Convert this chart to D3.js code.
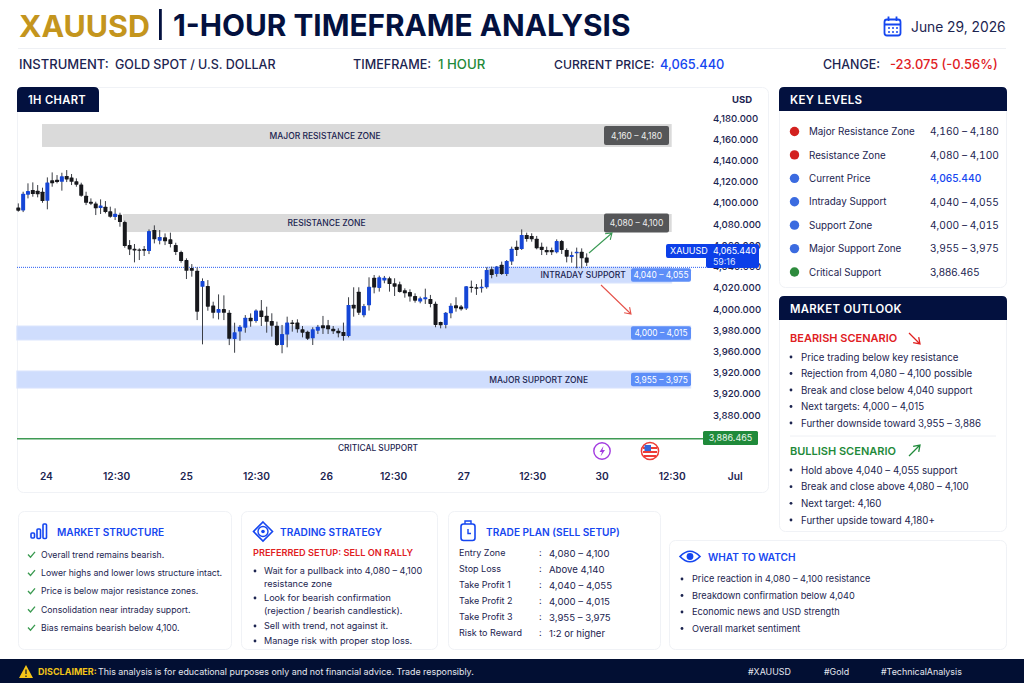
<!DOCTYPE html>
<html>
<head>
<meta charset="utf-8">
<script src="https://cdn.jsdelivr.net/npm/d3@7"></script>
<style>
  html, body { margin: 0; padding: 0; background: #fff; overflow: hidden; }
  text { font-family: Inter, "Noto Sans", sans-serif; }
</style>
</head>
<body>
<script>
// candles
const open = [4095.7,4092.9,4107.7,4112.1,4111.5,4110.5,4102,4121.2,4121.8,4119.9,4125.3,4124,4120.3,4117.4,4106.7,4101.1,4099.5,4095.1,4096.4,4092,4086.6,4088.8,4081.9,4060.2,4056.8,4056.1,4056.5,4054.6,4074.4,4064.3,4067.5,4065.6,4060.2,4053.6,4046.1,4038.5,4036,4020.9,4021.6,4003.3,3996.4,3999.9,3996.4,3971.6,3978.8,3982.3,3991.7,3988.6,3998.6,3993.6,
  3988.6,3984.2,3966,3975.8,3987.1,3987.1,3980.8,3978.6,3972.3,3979.5,3984.6,3984.6,3981.4,3979.5,3978.3,3974.5,4004,4016.3,3994,4003.4,4029.5,4019.8,4026.7,4028.9,4024.2,4023.2,4017.6,4016,4012.2,4006.9,4009.1,4009.4,4005,3987.7,3984.9,3995.9,4003.4,4002.2,4000.3,4021,4020.4,4019.4,4020.4,4037.4,4033,4041.7,4032.9,4044.6,4058.7,4056.5,4069.7,4068.8,4066.2,4058.7,4055.6,4055.6,4053.4,4064,4055.6,4049,4052.4,4054,4048.6]
const high = [4099.5,4110.5,4118.4,4119.3,4116.8,4114.3,4124,4128.7,4126.2,4128.4,4130.9,4127.2,4123.1,4119,4110.5,4104.2,4101.1,4103.3,4101.7,4096.4,4094.8,4090.7,4083.2,4064.9,4061.2,4057.1,4059.3,4075,4078.8,4074.4,4071.2,4071.9,4062.4,4054.9,4047.7,4042.3,4039.2,4028.8,4027.2,4006.8,4013.7,4012.8,3998.9,3987,3984.8,3994.2,3995.8,3999.6,4008.4,4002.1,
  3995.9,3988,3984.9,3992.7,3989.6,3990.2,3983.9,3979.5,3982.7,3984.9,3993.4,3989.6,3983.9,3981.7,3987.1,4011,4020.4,4020.4,4004.7,4029.8,4032,4031.4,4031.1,4030.4,4028.9,4025.7,4019.4,4018.5,4014.7,4011.6,4019.1,4013.2,4006.9,3988,3997.1,4005.3,4011,4003.7,4021.6,4026.7,4023.5,4027.9,4039.2,4039.9,4040.5,4044.6,4046.1,4058.7,4064.4,4075,4071.9,4071.3,4068.8,4062.5,4058.7,4057.8,4065.6,4065,4057.1,4054,4057.8,4057.1,4052.4]
const low = [4091.7,4091.3,4104.2,4105.8,4105.2,4100.1,4093.9,4115.2,4118.4,4111.5,4119.6,4116.8,4115.2,4105.8,4097.9,4097.9,4088.5,4089.5,4090.1,4086,4083.8,4077.5,4057.7,4050.8,4043.9,4046.1,4049.9,4051.7,4061.8,4060.9,4060.2,4058,4050.8,4043.6,4028.2,4030.4,3989.5,3966.6,3998.3,3991.1,3990.1,3989.5,3965.9,3958.7,3970,3977.6,3983.2,3987,3983.9,3977.6,
  3973.9,3965.1,3958.2,3963.8,3978.6,3977.6,3973.2,3970.7,3966,3976.4,3976.4,3976.4,3976.4,3973.2,3970.1,3973.2,3992.7,3994.3,3992.1,3998.4,4014.7,4016.3,4024.2,4016.3,4012.2,4015.4,4010.6,4006.9,4005.9,4005.3,4004.7,4001.5,3982.7,3981.7,3981.7,3991.2,3997.4,3998.4,3999,4015.4,4013.2,4015.4,4019.1,4028.9,4030.4,4032,4031,4041.4,4049.9,4055.6,4063.4,4063.4,4056.2,4050.8,4050.8,4050.8,4052.4,4051.8,4043.9,4043.6,4038.3,4038.3,4040.5]
const close = [4092.6,4108.6,4111.1,4108.3,4108,4101.7,4119.3,4118.4,4119.6,4125,4122.1,4119.9,4117.1,4106.7,4100.1,4099.2,4094.8,4097.6,4091.3,4086.9,4089.8,4081.9,4059.3,4056.1,4055.2,4054.9,4054.9,4073.4,4065.6,4067.8,4063.7,4061.2,4053.6,4045.1,4036,4036,3997.4,4026.3,4002.1,3996.4,3999.9,3996.4,3971.9,3977.9,3983.2,3991.7,3988.3,3998.6,3992.3,3987.9,
  3984.2,3966,3976.4,3987.1,3985.8,3980.8,3977.6,3972,3980.8,3983.3,3981.7,3980.8,3978.9,3977,3974.5,4003.7,4000.3,3996.5,4002.8,4021,4020.1,4029.8,4029.5,4023.5,4021,4016,4014.7,4011.6,4007.8,4010,4011,4004.7,3984.9,3984.6,3996.5,4003.1,4000.6,3999.6,4021.3,4019.8,4019.1,4021,4036.7,4032,4039.9,4032.9,4045.2,4056.8,4055.6,4069.7,4065.9,4065.6,4057.1,4055.6,4053.4,4053.4,4064,4055.6,4049.3,4050.8,4054,4047.7,4043.6]

// y axis, printed labels kept as they appear in the picture
const tickValues = [4180,4160,4140,4120,4100,4080,4060,4040,4020,4000,3980,3960,3940,3920,3900]
const tickLabels = ['4,180.000','4,160.000','4,140.000','4,120.000','4,100.000','4,080.000','4,060.000','4,040.000','4,020.000','4,000.000','3,980.000','3,960.000','3,920.000','3,920.000','3,880.000']

// x axis, in bar numbers
const timeBars = [5.7,20.2,33.9,47,60.6,73.7,87.4,101.1,115,129,141.6]
const timeLabels = ['24','12:30','25','12:30','26','12:30','27','12:30','30','12:30','Jul']

// zones as plotted against the axis
const zoneNames = ['MAJOR RESISTANCE ZONE','RESISTANCE ZONE','INTRADAY SUPPORT','','MAJOR SUPPORT ZONE']
const zoneRanges = ['4,160 – 4,180','4,080 – 4,100','4,040 – 4,055','4,000 – 4,015','3,955 – 3,975']
const zoneHigh = [4174.3,4089.5,4039.5,3983.9,3941.5]
const zoneLow = [4152.7,4072.5,4024.4,3970.7,3925.4]
const zoneFromBar = [4.9,21.6,92,-0.3,-0.3]
const zoneToBar = [129,129,129,132.8,132.8]
const zoneLabelBar = [60.4,60.7,111.3,0,102.4]
const currentLine = 4039.2
const criticalLine = 3877.6

const keyLabels = ['Major Resistance Zone','Resistance Zone','Current Price','Intraday Support','Support Zone','Major Support Zone','Critical Support']
const keyValues = ['4,160 – 4,180','4,080 – 4,100','4,065.440','4,040 – 4,055','4,000 – 4,015','3,955 – 3,975','3,886.465']
const keyKinds = ['red','red','blue','blue','blue','blue','green']

const bearishList = ['Price trading below key resistance','Rejection from 4,080 – 4,100 possible','Break and close below 4,040 support','Next targets: 4,000 – 4,015','Further downside toward 3,955 – 3,886']
const bullishList = ['Hold above 4,040 – 4,055 support','Break and close above 4,080 – 4,100','Next target: 4,160','Further upside toward 4,180+']
const structureList = ['Overall trend remains bearish.','Lower highs and lower lows structure intact.','Price is below major resistance zones.','Consolidation near intraday support.','Bias remains bearish below 4,100.']
const strategyList = [['Wait for a pullback into 4,080 – 4,100','resistance zone'],['Look for bearish confirmation','(rejection / bearish candlestick).'],['Sell with trend, not against it.'],['Manage risk with proper stop loss.']]
const planLabels = ['Entry Zone','Stop Loss','Take Profit 1','Take Profit 2','Take Profit 3','Risk to Reward']
const planValues = ['4,080 – 4,100','Above 4,140','4,040 – 4,055','4,000 – 4,015','3,955 – 3,975','1:2 or higher']
const watchList = ['Price reaction in 4,080 – 4,100 resistance','Breakdown confirmation below 4,040','Economic news and USD strength','Overall market sentiment']
const hashTags = ['#XAUUSD','#Gold','#TechnicalAnalysis']

const navy = '#03113f', ink = '#1c2450', blue = '#1546f0', red = '#e0201f', green = '#1f8a3a'
const dotColor = {red: '#d3211f', blue: '#3b6be0', green: '#2e8b3d'}

const svg = d3.select('body').append('svg')
  .attr('width', 1024).attr('height', 683)
  .style('display', 'block')

const label = (x, y, str, size, color, weight, anchor) => svg.append('text')
  .attr('x', x).attr('y', y).attr('dy', '0.38em')
  .attr('text-anchor', anchor || 'start')
  .attr('font-size', size).attr('font-weight', weight || 400)
  .attr('fill', color || ink).text(str)

const panel = (x, y, w, h) => svg.append('rect')
  .attr('x', x + 0.5).attr('y', y + 0.5).attr('width', w).attr('height', h).attr('rx', 6)
  .attr('fill', '#fff').attr('stroke', '#f0f2f6')

const header = (x, y, w, h, str, size) => {
  svg.append('path')
    .attr('d', `M${x},${y + h}V${y + 5}Q${x},${y} ${x + 5},${y}H${x + w - 5}Q${x + w},${y} ${x + w},${y + 5}V${y + h}Z`)
    .attr('fill', navy)
  label(x + 11, y + h / 2 + 0.5, str, size, '#fff', 600).attr('letter-spacing', 0.35)
}

const arrow = (x1, y1, x2, y2, color, width) => {
  const a = Math.atan2(y2 - y1, x2 - x1), s = 7
  svg.append('path')
    .attr('d', `M${x1},${y1}L${x2},${y2}M${x2 - s * Math.cos(a - 0.6)},${y2 - s * Math.sin(a - 0.6)}L${x2},${y2}L${x2 - s * Math.cos(a + 0.6)},${y2 - s * Math.sin(a + 0.6)}`)
    .attr('fill', 'none').attr('stroke', color).attr('stroke-width', width)
}

// title block
label(19, 25, 'XAUUSD', 30.4, '#c4951d', 700)
svg.append('rect').attr('x', 159).attr('y', 9).attr('width', 2.8).attr('height', 31).attr('fill', navy)
label(173, 25, '1-HOUR TIMEFRAME ANALYSIS', 29.8, navy, 700)
svg.append('rect').attr('x', 884.5).attr('y', 19.5).attr('width', 16).attr('height', 16).attr('rx', 2.5)
  .attr('fill', 'none').attr('stroke', blue).attr('stroke-width', 1.8)
svg.append('path').attr('d', 'M884.5,24.5H900.5M888.5,16.5V21M896.5,16.5V21').attr('stroke', blue).attr('stroke-width', 1.8)
svg.append('path').attr('d', 'M888,28H890M892,28H894M896,28H898M888,32H890M892,32H894M896,32H898').attr('stroke', blue).attr('stroke-width', 1.6)
label(911, 27, 'June 29, 2026', 13.8, ink, 400)
svg.append('line').attr('x1', 18).attr('x2', 1006).attr('y1', 48.5).attr('y2', 48.5).attr('stroke', '#eef0f4')

label(19, 64, 'INSTRUMENT:', 13, ink, 500)
label(115, 64, 'GOLD SPOT / U.S. DOLLAR', 12.5, ink, 500)
label(353, 64, 'TIMEFRAME:', 12.6, ink, 500)
label(438, 64, '1 HOUR', 13.2, green, 500)
label(554, 64, 'CURRENT PRICE:', 12.2, ink, 500)
label(660, 64, '4,065.440', 12.8, blue, 500)
label(823, 64, 'CHANGE:', 12.4, ink, 500)
label(890, 64, '-23.075 (-0.56%)', 12.9, red, 500)

// chart panel
panel(17, 87, 751, 405)
// bars are not quite evenly spaced in the picture, so the x scale has a few knots
const x = d3.scaleLinear().domain([0, 27, 49, 92, 112]).range([18.3, 149, 266.7, 486.7, 586.7])
const y = d3.scaleLinear().domain([4180, 3900]).range([118, 415])

header(17, 87, 82, 25, '1H CHART', 11.2)
label(742, 99, 'USD', 9.5, ink, 700, 'middle')

const zones = d3.range(zoneNames.length)
svg.append('g').selectAll('rect').data(zones).join('rect')
  .attr('x', i => x(zoneFromBar[i]))
  .attr('width', i => x(zoneToBar[i]) - x(zoneFromBar[i]))
  .attr('y', i => y(zoneHigh[i]))
  .attr('height', i => y(zoneLow[i]) - y(zoneHigh[i]))
  .attr('fill', i => i < 2 ? '#dadada' : '#cfddfd')
  .attr('stroke', i => i < 2 ? 'none' : '#dbe5fd')

// current price dotted line
svg.append('line')
  .attr('x1', 17).attr('x2', 706).attr('y1', y(currentLine)).attr('y2', y(currentLine))
  .attr('stroke', '#2a5ef2').attr('stroke-width', 1).attr('stroke-dasharray', '1 1')

// critical line
svg.append('line')
  .attr('x1', 17).attr('x2', 704).attr('y1', y(criticalLine)).attr('y2', y(criticalLine))
  .attr('stroke', '#3f9a54').attr('stroke-width', 1.3)

// candles
const bars = d3.range(open.length)
const candles = svg.append('g')
candles.selectAll('line').data(bars).join('line')
  .attr('x1', i => x(i)).attr('x2', i => x(i))
  .attr('y1', i => y(high[i])).attr('y2', i => y(low[i]))
  .attr('stroke', '#3a3d44').attr('stroke-width', 1)
candles.selectAll('rect').data(bars).join('rect')
  .attr('x', i => x(i) - 2).attr('width', 4)
  .attr('y', i => y(Math.max(open[i], close[i])))
  .attr('height', i => Math.max(1.2, Math.abs(y(open[i]) - y(close[i]))))
  .attr('rx', 0.6)
  .attr('fill', i => close[i] >= open[i] ? '#1546d6' : '#17181c')

// zone labels and tags
zones.forEach(i => {
  const mid = (y(zoneHigh[i]) + y(zoneLow[i])) / 2
  if (zoneNames[i]) label(x(zoneLabelBar[i]), mid, zoneNames[i], 8.5, ink, 500, 'middle')
  const dark = i < 2
  const tx = dark ? 604 : 631, tw = dark ? 65 : 60, th = dark ? 19 : 13.5
  svg.append('rect').attr('x', tx).attr('y', mid - th / 2).attr('width', tw).attr('height', th).attr('rx', 2)
    .attr('fill', dark ? '#555658' : '#5d8ef8')
  label(tx + tw / 2, mid, zoneRanges[i], dark ? 8.5 : 8.4, dark ? '#eee' : '#fff', 400, 'middle')
})

label(x(70.75), 448, 'CRITICAL SUPPORT', 8.4, ink, 500, 'middle')
svg.append('rect').attr('x', 703).attr('y', 431).attr('width', 55).attr('height', 14).attr('rx', 1.5).attr('fill', '#1f8a3a')
label(730.5, 438, '3,886.465', 9, '#e8f6ec', 400, 'middle')

arrow(589, 253, 612, 233, '#3b9a55', 1.1)
arrow(601, 285, 631, 314, '#e5534b', 1.1)

// axes, through d3
const yAxis = d3.axisRight(y).tickValues(tickValues).tickSize(0).tickPadding(0)
  .tickFormat((d, i) => tickLabels[i])
const yG = svg.append('g').attr('transform', 'translate(713,0)').call(yAxis)
yG.select('.domain').remove()
yG.selectAll('text').attr('font-size', 9.6).attr('font-weight', 500).attr('fill', ink)
  .style('font-family', 'Inter, sans-serif')

const xAxis = d3.axisBottom(x).tickValues(timeBars).tickSize(0).tickPadding(0)
  .tickFormat((d, i) => timeLabels[i])
const xG = svg.append('g').attr('transform', 'translate(0,473)').call(xAxis)
xG.select('.domain').remove()
xG.selectAll('text').attr('font-size', 10.2).attr('font-weight', 600).attr('fill', ink)
  .style('font-family', 'Inter, sans-serif')

// current price tag sits above the axis labels
svg.append('path').attr('d', 'M668,244H757Q759,244 759,246V266Q759,268 757,268H708Q706,268 706,266V258H668Q666,258 666,256V246Q666,244 668,244Z').attr('fill', '#0c3fe8')
label(670, 251, 'XAUUSD', 9, '#fff', 400)
label(713, 251, '4,065.440', 8.8, '#fff', 400)
label(713, 262, '59:16', 8.8, '#dfe7ff', 400)

// event icons
svg.append('circle').attr('cx', 602).attr('cy', 451).attr('r', 8.2).attr('fill', '#fff').attr('stroke', '#a33be0').attr('stroke-width', 1.4)
svg.append('path').attr('d', 'M603.5,446L599.5,452H602L600.5,456.5L605,450H602.5Z').attr('fill', '#a33be0')
svg.append('circle').attr('cx', 650).attr('cy', 451).attr('r', 8.6).attr('fill', '#fff').attr('stroke', '#ee3b35').attr('stroke-width', 1.5)
svg.append('path').attr('d', 'M643,448H657M643,452H657M644,456H656').attr('stroke', '#ee3b35').attr('stroke-width', 2)
svg.append('rect').attr('x', 644.5).attr('y', 445).attr('width', 6.5).attr('height', 6).attr('fill', '#3566d9')

// key levels
panel(779, 87, 227, 200)
header(779, 87, 228, 24, 'KEY LEVELS', 11.5)
const keyY = d3.scalePoint().domain(d3.range(keyLabels.length)).range([131.5, 272])
keyLabels.forEach((d, i) => {
  svg.append('circle').attr('cx', 794.5).attr('cy', keyY(i)).attr('r', 4.7).attr('fill', dotColor[keyKinds[i]])
  label(809, keyY(i), d, 9.8, ink, 400)
  label(930, keyY(i), keyValues[i], 10.2, i == 2 ? blue : ink, i == 2 ? 500 : 400)
    .style('font-variant-numeric', i == 2 || i == 6 ? 'normal' : 'tabular-nums')
})

// market outlook
const bullet = (xb, xt, yy, str, size) => {
  svg.append('circle').attr('cx', xb).attr('cy', yy).attr('r', 1.4).attr('fill', ink)
  label(xt, yy, str, size, ink, 400)
}
panel(779, 296, 227, 235)
header(779, 296, 228, 24, 'MARKET OUTLOOK', 11.3)
label(790, 338, 'BEARISH SCENARIO', 11, red, 600)
arrow(909, 333, 920, 344, red, 1.3)
const bearY = d3.scalePoint().domain(d3.range(bearishList.length)).range([357, 423])
bearishList.forEach((d, i) => bullet(791, 801, bearY(i), d, 9.7))
svg.append('line').attr('x1', 790).attr('x2', 996).attr('y1', 436).attr('y2', 436).attr('stroke', '#eef0f4')
label(790, 451, 'BULLISH SCENARIO', 11, green, 600)
arrow(909, 456, 920, 445, green, 1.3)
const bullY = d3.scalePoint().domain(d3.range(bullishList.length)).range([470, 520])
bullishList.forEach((d, i) => bullet(791, 801, bullY(i), d, 9.7))

// market structure
panel(18, 511, 213, 138)
label(57, 532, 'MARKET STRUCTURE', 10.1, blue, 600)
svg.append('g').attr('fill', 'none').attr('stroke', blue).attr('stroke-width', 1.6)
  .selectAll('rect').data([[31, 533, 3.5, 5], [37, 529, 3.5, 9.5], [43, 524, 3.5, 14.5]]).join('rect')
  .attr('x', d => d[0]).attr('y', d => d[1]).attr('width', d => d[2]).attr('height', d => d[3]).attr('rx', 1)
const structY = d3.scalePoint().domain(d3.range(structureList.length)).range([554.5, 627.5])
structureList.forEach((d, i) => {
  svg.append('path').attr('d', `M28,${structY(i)}l2.5,2.7l4.5,-5.4`).attr('fill', 'none').attr('stroke', '#3a9a50').attr('stroke-width', 1.3)
  label(41, structY(i), d, 8.7, ink, 400)
})

// trading strategy
panel(241, 511, 196, 138)
svg.append('path').attr('d', 'M263,522L272.5,531.5L263,541L253.5,531.5Z').attr('fill', 'none').attr('stroke', blue).attr('stroke-width', 1.6)
svg.append('circle').attr('cx', 263).attr('cy', 531.5).attr('r', 5).attr('fill', 'none').attr('stroke', blue).attr('stroke-width', 1.4)
svg.append('circle').attr('cx', 263).attr('cy', 531.5).attr('r', 1.8).attr('fill', blue)
label(280, 532, 'TRADING STRATEGY', 10.1, blue, 600)
label(253, 553, 'PREFERRED SETUP: SELL ON RALLY', 9.2, red, 600)
const stratRowsY = [[571, 584], [598, 611], [626], [641]]
strategyList.forEach((lines, i) => lines.forEach((d, j) => {
  if (j == 0) svg.append('circle').attr('cx', 255).attr('cy', stratRowsY[i][j]).attr('r', 1.4).attr('fill', ink)
  label(264, stratRowsY[i][j], d, 9.1, ink, 400)
}))

// trade plan
panel(448, 511, 212, 138)
svg.append('rect').attr('x', 461).attr('y', 524).attr('width', 14).attr('height', 16.5).attr('rx', 2.5).attr('fill', 'none').attr('stroke', blue).attr('stroke-width', 1.6)
svg.append('path').attr('d', 'M465,524V521H471V524M468,529V533.5H471').attr('fill', 'none').attr('stroke', blue).attr('stroke-width', 1.4)
label(486, 532, 'TRADE PLAN (SELL SETUP)', 10.1, blue, 600)
const planY = d3.scalePoint().domain(d3.range(planLabels.length)).range([553, 633])
planLabels.forEach((d, i) => {
  label(459, planY(i), d, 9, ink, 400)
  label(539, planY(i), ':', 9, ink, 400)
  label(549, planY(i), planValues[i], 9.6, ink, 400)
})

// what to watch
panel(669, 540, 337, 109)
svg.append('path').attr('d', 'M680,556.5Q690,546 700,556.5Q690,567 680,556.5Z').attr('fill', 'none').attr('stroke', blue).attr('stroke-width', 1.7)
svg.append('circle').attr('cx', 690).attr('cy', 556.5).attr('r', 3.4).attr('fill', blue)
label(708, 557, 'WHAT TO WATCH', 10.1, blue, 600)
const watchY = d3.scalePoint().domain(d3.range(watchList.length)).range([579, 628.5])
watchList.forEach((d, i) => bullet(682, 692, watchY(i), d, 9.2))

// footer bar
svg.append('rect').attr('x', 0).attr('y', 659).attr('width', 1024).attr('height', 24).attr('fill', '#020f33')
svg.append('path').attr('d', 'M26,665L33,678H19Z').attr('fill', '#f5c518')
svg.append('path').attr('d', 'M26,669.5V674M26,675.5V677').attr('stroke', '#20202a').attr('stroke-width', 1.3)
label(38, 672, 'DISCLAIMER:', 9, '#f0c419', 700)
label(98, 672, 'This analysis is for educational purposes only and not financial advice. Trade responsibly.', 8.9, '#e4e7ef', 400)
const tagX = [748, 824, 881]
hashTags.forEach((d, i) => label(tagX[i], 672, d, 8.9, '#e4e7ef', 400))
</script>
</body>
</html>
